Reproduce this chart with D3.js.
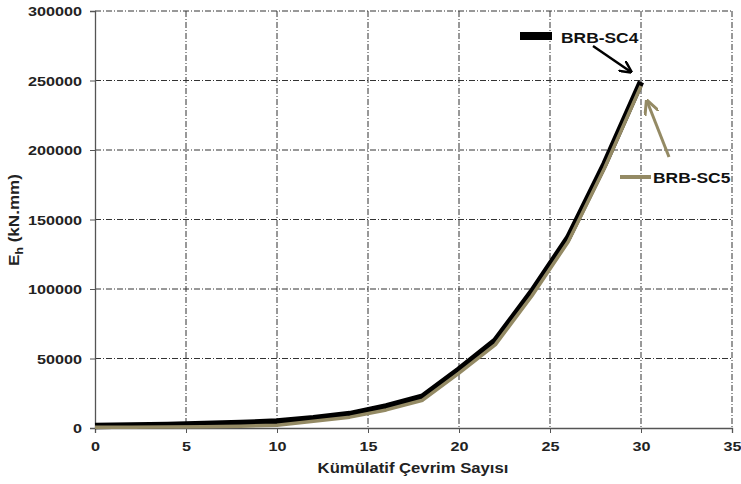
<!DOCTYPE html>
<html><head><meta charset="utf-8">
<script src="https://cdn.jsdelivr.net/npm/d3@7"></script>
<style>body{margin:0;background:#fff;} text{font-family:"Liberation Sans",Arial,sans-serif;}</style>
</head><body>
<svg id="c" width="741" height="484"></svg>
<script>
const cycles = [0,2,4,6,8,10,12,14,16,18,20,22,24,26,28,30];
const sc4 = [1500,1800,2200,2800,3600,4600,7000,10000,15500,22500,42000,63000,98000,137000,190000,249000];
const sc5 = [500,600,700,900,1300,2000,4800,7800,13000,20000,39500,60000,95000,134000,187000,246000];
const xTicks = [0,5,10,15,20,25,30,35];
const yTicks = [0,50000,100000,150000,200000,250000,300000];
const seriesNames = ["BRB-SC4","BRB-SC5"];
const colors = ["#000000","#948a64"];

const svg = d3.select("#c");
const L=95,R=732,T=11,B=428;
const x = d3.scaleLinear().domain([0,35]).range([L,R]);
const y = d3.scaleLinear().domain([0,300000]).range([B,T]);

function stretch(sel,k){
  sel.each(function(){
    const len=this.getComputedTextLength();
    d3.select(this).attr("textLength",len*k).attr("lengthAdjust","spacingAndGlyphs");
  });
}

// grid
const g = svg.append("g");
g.selectAll(".gy").data(yTicks.filter(d=>d>0)).enter().append("line")
  .attr("x1",L).attr("x2",R).attr("y1",d=>y(d)).attr("y2",d=>y(d))
  .attr("stroke","#333").attr("stroke-width",1).attr("stroke-dasharray","6,2,1,2");
g.selectAll(".gx").data(xTicks.filter(d=>d>0)).enter().append("line")
  .attr("y1",T).attr("y2",B).attr("x1",d=>x(d)).attr("x2",d=>x(d))
  .attr("stroke","#333").attr("stroke-width",1).attr("stroke-dasharray","6,2,1,2");

// axes
const xa = svg.append("g").attr("transform",`translate(0,${B})`)
  .call(d3.axisBottom(x).tickValues(xTicks).tickSize(5).tickPadding(6).tickFormat(d3.format("d")));
const ya = svg.append("g").attr("transform",`translate(${L},0)`)
  .call(d3.axisLeft(y).tickValues(yTicks).tickSize(5).tickPadding(8).tickFormat(d3.format("d")));
[xa,ya].forEach(a=>{
  a.select(".domain").attr("stroke","#555").attr("stroke-width",1.3);
  a.selectAll(".tick line").attr("stroke","#555");
  a.selectAll("text").attr("font-size",13.5).attr("font-weight","bold").attr("fill","#222")
    .style("font-family","'Liberation Sans',Arial,sans-serif");
});
xa.selectAll("text").attr("dy","0.9em");
ya.selectAll("text").attr("dy","0.35em");
stretch(xa.selectAll("text"),1.2);
stretch(ya.selectAll("text"),1.2);

// lines
const line = d3.line().x((d,i)=>x(cycles[i])).y(d=>y(d));
svg.append("path").datum(sc4).attr("d",line).attr("fill","none")
  .attr("stroke",colors[0]).attr("stroke-width",6.5).attr("stroke-linejoin","round");
svg.append("path").datum(sc5).attr("d",line).attr("fill","none")
  .attr("stroke",colors[1]).attr("stroke-width",3.5).attr("stroke-linejoin","round");

// legend / annotations
svg.append("defs").html(`
<marker id="ab" viewBox="0 0 10 10" refX="9" refY="5" markerWidth="5" markerHeight="5" orient="auto"><path d="M0,0 L10,5 L0,10" fill="none" stroke="#000" stroke-width="2"/></marker>
<marker id="at" viewBox="0 0 10 10" refX="9" refY="5" markerWidth="5" markerHeight="5" orient="auto"><path d="M0,0 L10,5 L0,10" fill="none" stroke="#948a64" stroke-width="2"/></marker>`);
svg.append("line").attr("x1",520).attr("x2",552).attr("y1",36).attr("y2",36)
  .attr("stroke",colors[0]).attr("stroke-width",8);
const t1=svg.append("text").attr("x",561).attr("y",43).text(seriesNames[0])
  .attr("font-size",14.5).attr("font-weight","bold").attr("fill","#111");
svg.append("line").attr("x1",593).attr("y1",46).attr("x2",631).attr("y2",72)
  .attr("stroke","#000").attr("stroke-width",2.5).attr("marker-end","url(#ab)");
svg.append("line").attr("x1",620).attr("x2",651).attr("y1",177).attr("y2",177)
  .attr("stroke",colors[1]).attr("stroke-width",4);
const t2=svg.append("text").attr("x",653).attr("y",183).text(seriesNames[1])
  .attr("font-size",14.5).attr("font-weight","bold").attr("fill","#111");
svg.append("line").attr("x1",669).attr("y1",157).attr("x2",647).attr("y2",101)
  .attr("stroke",colors[1]).attr("stroke-width",3).attr("marker-end","url(#at)");
stretch(t1,1.2); stretch(t2,1.2);

// titles
const xt=svg.append("text").attr("x",413).attr("y",473).attr("text-anchor","middle")
  .attr("font-size",14).attr("font-weight","bold").attr("fill","#222").text("Kümülatif Çevrim Sayısı");
stretch(xt,1.19);
const yt = svg.append("text").attr("transform","translate(19,220) rotate(-90)").attr("text-anchor","middle")
  .attr("font-size",14).attr("font-weight","bold").attr("fill","#222");
yt.append("tspan").text("E");
yt.append("tspan").attr("font-size",10).attr("dy",4).text("h");
yt.append("tspan").attr("dy",-4).text(" (kN.mm)");
const ylen = yt.node().getComputedTextLength();
yt.attr("textLength",ylen*1.22).attr("lengthAdjust","spacingAndGlyphs");
</script>
</body></html>
